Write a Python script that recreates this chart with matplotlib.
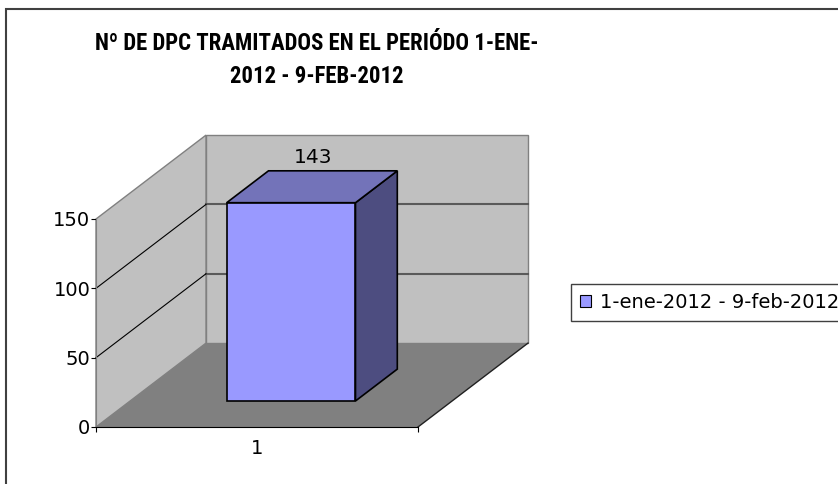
import matplotlib
matplotlib.use('Agg')
import matplotlib.pyplot as plt
from matplotlib.patches import Polygon, Patch, Rectangle
import numpy as np

# data
categories = ['1']
series_name = '1-ene-2012 - 9-feb-2012'
values = [143]
yticks = [0, 50, 100, 150]
title_lines = ['Nº DE DPC TRAMITADOS EN EL PERIÓDO 1-ENE-', '2012 - 9-FEB-2012']

# oblique depth projection: shift per full depth in data units
DX, DY = 0.3416, 60.5
ymax = yticks[-1]


def proj(x, y, z):
    return (x + z * DX, y + z * DY)


def face(ax, pts, fc, ec, lw, zorder):
    poly = Polygon([proj(*p) for p in pts], closed=True, facecolor=fc,
                   edgecolor=ec, linewidth=lw, clip_on=False, zorder=zorder,
                   joinstyle='miter')
    ax.add_patch(poly)


def line3d(ax, p, q, **kw):
    a, b = proj(*p), proj(*q)
    ax.plot([a[0], b[0]], [a[1], b[1]], clip_on=False, **kw)


fig = plt.figure(figsize=(8.38, 4.84), dpi=100)
ax = fig.add_axes([96 / 838, 57 / 484, 322 / 838, 208 / 484])
n = len(categories)
ax.set_xlim(0, n)
ax.set_ylim(0, ymax)
ax.patch.set_visible(False)

# walls and floor
face(ax, [(0, 0, 1), (n, 0, 1), (n, ymax, 1), (0, ymax, 1)], '#c0c0c0', '#808080', 1, 1)
face(ax, [(0, 0, 0), (0, 0, 1), (0, ymax, 1), (0, ymax, 0)], '#c0c0c0', '#808080', 1, 1)
face(ax, [(0, 0, 0), (n, 0, 0), (n, 0, 1), (0, 0, 1)], '#808080', 'none', 0, 1.5)
line3d(ax, (n, 0, 0), (n, 0, 1), color='#202020', lw=1, zorder=2)

# gridlines
for v in yticks[1:-1]:
    line3d(ax, (0, v, 1), (n, v, 1), color='#5a5a5a', lw=1.5, zorder=2)
    line3d(ax, (0, v, 0), (0, v, 1), color='black', lw=0.8, zorder=2)

# bars
w = 0.4
z0, z1 = 0.31, 0.69
for i, v in enumerate(values):
    x0 = i + 0.5 - w / 2
    x1 = x0 + w
    face(ax, [(x1, 0, z0), (x1, 0, z1), (x1, v, z1), (x1, v, z0)], '#4d4d80', 'black', 1.2, 3)
    face(ax, [(x0, v, z0), (x1, v, z0), (x1, v, z1), (x0, v, z1)], '#7373b9', 'black', 1.2, 3)
    face(ax, [(x0, 0, z0), (x1, 0, z0), (x1, v, z0), (x0, v, z0)], '#9999ff', 'black', 1.2, 3)
    ax.annotate(str(v), xy=proj(i + 0.5, v, (z0 + z1) / 2), xytext=(1, 21),
                textcoords='offset points', ha='center', va='center',
                fontsize=14.5, annotation_clip=False)

# axes
for s in ['top', 'right']:
    ax.spines[s].set_visible(False)
ax.spines['left'].set_color('#808080')
ax.spines['bottom'].set_color('black')
ax.spines['bottom'].set_zorder(4)
ax.set_yticks(yticks)
ax.tick_params(axis='y', direction='out', length=3.6, width=0.8, colors='black',
               pad=0.5, labelsize=14)
ax.set_xticks([0, n])
ax.set_xticklabels([])
ax.set_xticks(np.arange(n) + 0.5, minor=True)
ax.set_xticklabels(categories, minor=True)
ax.tick_params(axis='x', which='major', direction='out', length=3.6, width=0.8)
ax.tick_params(axis='x', which='minor', length=0, pad=8.5, labelsize=14)

# legend
handle = Patch(facecolor='#9999ff', edgecolor='black', linewidth=0.8)
leg = fig.legend([handle], [series_name], loc='upper left',
                 bbox_to_anchor=(571 / 838, 1 - 284 / 484), fontsize=14,
                 frameon=True, fancybox=False, edgecolor='#404040', framealpha=1,
                 borderpad=0.45, handlelength=0.6, handleheight=0.6,
                 handletextpad=0.45, borderaxespad=0)
leg.get_frame().set_linewidth(1)

# title
tfont = ['Roboto Condensed', 'DejaVu Sans']
fig.text(317 / 838, 1 - 50 / 484, title_lines[0], ha='center', va='baseline',
         fontsize=16.4, fontweight='bold', family=tfont)
fig.text(317 / 838, 1 - 83 / 484, title_lines[1], ha='center', va='baseline',
         fontsize=16.4, fontweight='bold', family=tfont)

# chart area border
fig.patches.append(Rectangle((6 / 838, -0.1), 1.2, 1 - 9 / 484 + 0.1,
                             transform=fig.transFigure, fill=False,
                             edgecolor='#404040', lw=1.5))

fig.savefig('out.png', dpi=100)
